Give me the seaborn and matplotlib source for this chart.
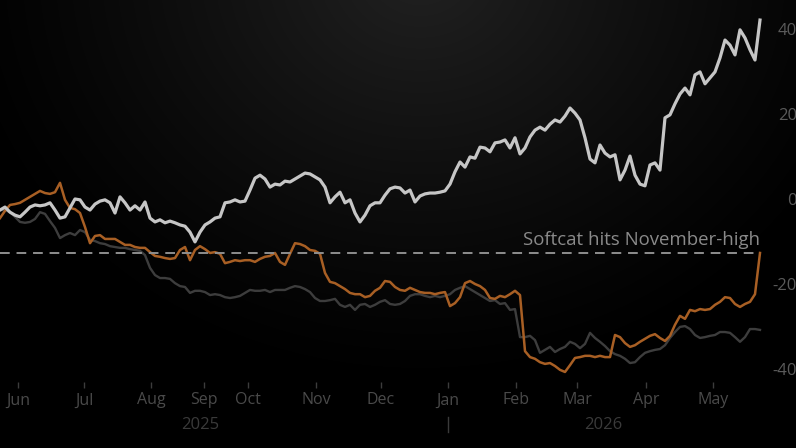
import numpy as np
import pandas as pd
import matplotlib
matplotlib.use("Agg")
import matplotlib.pyplot as plt
import matplotlib.transforms as mtransforms
import seaborn as sns

# % change, sampled evenly across the sessions shown
white_line = [
    -2.6, -1.9, -3.1, -3.8, -4.2, -3.1, -1.9, -1.4, -1.6, -1.4,
    -0.9, -2.6, -4.5, -4.2, -2.1, 0.0, -0.2, -1.9, -2.6, -1.2,
    -0.5, -0.2, -0.9, -3.3, 0.5, -0.9, -2.6, -1.6, -2.6, -0.7,
    -4.5, -5.4, -4.9, -5.6, -5.2, -5.6, -6.1, -6.4, -7.8, -10.1,
    -7.8, -6.1, -5.4, -4.5, -4.2, -0.9, -0.7, -0.2, -0.7, -0.5,
    2.1, 4.9, 5.6, 4.7, 2.8, 3.5, 3.3, 4.2, 4.0, 4.7,
    5.4, 6.1, 5.9, 5.2, 4.5, 2.8, -0.9, 0.5, 1.6, -0.9,
    -0.2, -3.3, -5.4, -3.8, -1.6, -0.9, -0.9, 0.9, 2.4, 2.8,
    2.6, 1.4, 2.1, -0.7, 0.7, 1.2, 1.4, 1.4, 1.6, 1.9,
    3.5, 6.4, 8.7, 7.5, 9.9, 9.6, 12.2, 12.0, 11.1, 13.2,
    13.4, 13.9, 12.0, 14.4, 10.6, 12.0, 14.6, 16.2, 16.9, 16.2,
    17.6, 18.6, 18.1, 19.5, 21.4, 20.2, 18.6, 14.4, 9.4, 8.5,
    12.7, 10.8, 9.9, 10.4, 4.5, 6.8, 10.1, 5.6, 3.5, 3.1,
    8.0, 8.5, 6.8, 19.1, 19.8, 22.4, 24.7, 26.1, 24.5, 29.2,
    29.9, 27.1, 28.5, 29.9, 33.2, 37.4, 36.2, 33.9, 39.8, 37.9,
    35.1, 32.7, 42.1,
]
softcat = [
    -4.5, -2.8, -1.4, -1.2, -0.9, -0.2, 0.5, 1.2, 1.9, 1.4,
    1.2, 1.6, 3.8, -0.2, -2.1, -2.4, -3.3, -6.6, -10.4, -8.7,
    -8.5, -9.4, -9.4, -9.4, -10.1, -10.8, -10.8, -11.3, -11.5, -11.5,
    -12.5, -13.4, -13.6, -13.9, -14.1, -13.9, -12.0, -11.3, -14.4, -12.0,
    -11.1, -11.8, -12.7, -12.5, -12.9, -15.1, -14.8, -14.4, -14.6, -14.4,
    -14.4, -14.8, -14.1, -13.6, -13.4, -12.7, -14.8, -15.5, -12.9, -10.4,
    -10.6, -11.1, -12.0, -12.2, -12.9, -17.4, -19.5, -19.8, -20.5, -21.2,
    -22.1, -22.4, -22.4, -23.1, -22.8, -21.6, -20.9, -19.3, -19.5, -20.7,
    -21.4, -21.6, -20.9, -21.4, -21.9, -22.1, -22.1, -22.4, -22.1, -21.9,
    -25.2, -24.5, -23.1, -19.8, -19.3, -20.0, -20.5, -21.4, -23.3, -23.5,
    -22.8, -23.1, -22.4, -21.6, -22.6, -35.8, -37.2, -37.6, -38.4, -38.8,
    -38.6, -39.3, -40.2, -40.7, -39.1, -37.4, -37.2, -36.9, -36.9, -37.2,
    -36.9, -37.2, -37.2, -32.0, -32.5, -33.9, -34.8, -34.4, -33.6, -32.9,
    -32.2, -31.8, -32.7, -33.4, -32.2, -29.6, -27.5, -28.2, -26.1, -26.4,
    -25.9, -26.1, -25.9, -24.9, -24.2, -23.1, -23.3, -24.7, -25.4, -24.7,
    -24.2, -22.4, -12.7,
]
grey_line = [
    -2.6, -2.6, -3.1, -4.2, -5.4, -5.6, -5.4, -4.7, -3.1, -3.5,
    -5.2, -6.8, -9.2, -8.5, -8.0, -8.5, -7.3, -7.8, -9.6, -9.9,
    -10.4, -10.6, -11.1, -11.3, -11.5, -11.5, -11.8, -12.0, -12.2, -13.2,
    -16.2, -17.9, -18.6, -18.6, -18.8, -19.8, -20.5, -20.7, -22.1, -21.6,
    -21.6, -21.9, -22.6, -22.4, -22.6, -23.1, -23.3, -23.1, -22.8, -22.1,
    -21.4, -21.6, -21.6, -21.4, -21.9, -21.4, -21.4, -21.4, -20.9, -20.5,
    -20.7, -21.2, -21.9, -23.3, -24.0, -24.0, -23.8, -23.5, -24.9, -25.4,
    -24.9, -26.1, -24.9, -24.7, -25.4, -24.9, -24.2, -23.8, -24.7, -24.9,
    -24.7, -24.0, -22.8, -22.4, -22.4, -22.8, -23.1, -22.8, -23.1, -22.8,
    -22.4, -21.4, -20.9, -20.5, -21.2, -21.9, -22.6, -23.3, -24.0, -23.8,
    -24.7, -24.5, -26.1, -25.9, -32.5, -32.5, -32.2, -33.2, -36.2, -35.5,
    -34.8, -36.0, -35.3, -34.8, -33.6, -34.1, -35.1, -34.1, -31.5, -32.7,
    -33.6, -34.6, -35.8, -36.5, -36.9, -37.6, -38.6, -38.4, -37.2, -36.2,
    -35.8, -35.5, -35.3, -34.4, -32.7, -31.3, -30.1, -29.9, -30.6, -32.0,
    -32.7, -32.5, -32.2, -32.0, -31.3, -31.3, -31.5, -32.5, -33.6, -32.5,
    -30.6, -30.6, -30.8,
]
session = np.arange(len(softcat))

month_labels = ["Jun", "Jul", "Aug", "Sep", "Oct", "Nov", "Dec", "Jan", "Feb", "Mar", "Apr", "May"]
month_pos = [3.6, 16.8, 30.2, 40.8, 49.6, 63.2, 76.2, 89.6, 103.2, 115.4, 129.2, 142.6]
year_labels = ["2025", "2026"]
year_pos = [40.0, 120.6]
year_break = 89.6
y_ticks = [-40, -20, 0, 20, 40]
nov_high = -12.6
note = "Softcat hits November-high"

df = pd.DataFrame({
    "session": np.tile(session, 3),
    "pct": grey_line + softcat + white_line,
    "series": ["grey"] * len(session) + ["softcat"] * len(session) + ["white"] * len(session),
})

plt.rcParams["font.family"] = ["Open Sans", "DejaVu Sans"]

fig = plt.figure(figsize=(7.96, 4.48), dpi=100)
fig.patch.set_facecolor("black")

# soft glow at the top centre
bg = fig.add_axes([0, 0, 1, 1], zorder=-10)
yy, xx = np.mgrid[0:448, 0:796]
d = np.sqrt(((xx - 420) / 480.0) ** 2 + ((yy + 30) / 420.0) ** 2)
glow = 0.13 * np.clip(1 - d, 0, 1) ** 1.2
bg.imshow(glow, cmap="gray", vmin=0, vmax=1, aspect="auto", interpolation="bilinear")
bg.axis("off")

ax = fig.add_axes([0, 66 / 448, 765 / 796, 382 / 448])
ax.set_facecolor("none")

sns.lineplot(data=df, x="session", y="pct", hue="series", ax=ax, legend=False,
             palette={"grey": "#3d3d3d", "softcat": "#a85f24", "white": "#c6c6c6"},
             hue_order=["grey", "softcat", "white"], estimator=None)
for line, lw in zip(ax.lines, [1.7, 1.8, 2.3]):
    line.set_linewidth(lw)

ax.hlines(nov_high, session[0], session[-1], colors="#8e8e8e", linewidth=1.4,
          linestyles=(0, (5, 3.5)))
ax.text(session[-1], nov_high + 0.9, note, ha="right", va="bottom",
        color="#8a8a8a", fontsize=13.4)

ax.set_xlim(0, 153)
ax.set_ylim(-43.06, 46.82)

ax.set_xticks(month_pos)
ax.set_xticklabels(month_labels)
ax.tick_params(axis="x", colors="#3c3c3c", length=4.5, width=1, pad=3,
               labelsize=11.5, labelcolor="#4a4a4a")

ax.yaxis.tick_right()
ax.set_yticks(y_ticks)
ax.set_yticklabels([str(v) for v in y_ticks])
ax.tick_params(axis="y", length=0, pad=23, labelsize=12, labelcolor="#5a5a5a")
for lab in ax.get_yticklabels():
    lab.set_horizontalalignment("right")

ax.set_xlabel("")
ax.set_ylabel("")
for s in ax.spines.values():
    s.set_visible(False)

trans = mtransforms.blended_transform_factory(ax.transData, ax.transAxes)
for lab, pos in zip(year_labels, year_pos):
    ax.text(pos, -0.112, lab, transform=trans, ha="center", va="center",
            color="#3a3a3a", fontsize=12)
ax.plot([year_break, year_break], [-0.092, -0.131], transform=trans,
        color="#3a3a3a", lw=1, clip_on=False)

fig.savefig("out.png", dpi=100, facecolor="black")
